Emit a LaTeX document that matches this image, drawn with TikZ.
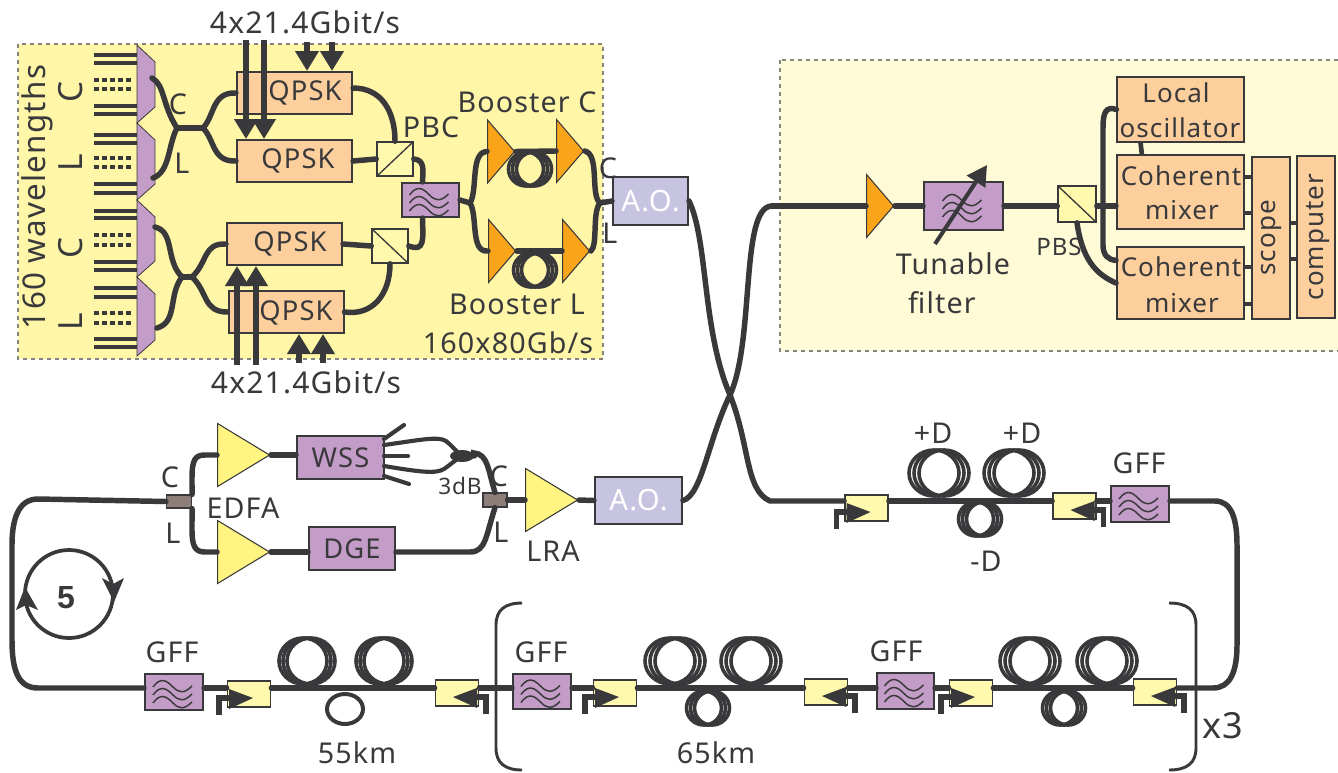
\documentclass[tikz,border=0pt]{standalone}
\usepackage{fontspec}
\setmainfont[LetterSpace=4]{Noto Sans}
\newfontfamily\markfont{Liberation Sans}
\usetikzlibrary{shapes.geometric,arrows.meta}
\newlength{\du}
\setlength{\du}{0.75pt}
\definecolor{inkcolor}{rgb}{0.225000, 0.225000, 0.235000}
\definecolor{panelAcolor}{rgb}{1.000000, 0.965000, 0.660000}
\definecolor{panelBcolor}{rgb}{1.000000, 0.985000, 0.840000}
\definecolor{dashcolor}{rgb}{0.520000, 0.520000, 0.500000}
\definecolor{purplecolor}{rgb}{0.765000, 0.610000, 0.780000}
\definecolor{peachcolor}{rgb}{0.990000, 0.810000, 0.610000}
\definecolor{orangecolor}{rgb}{0.975000, 0.645000, 0.100000}
\definecolor{lemoncolor}{rgb}{1.000000, 0.960000, 0.500000}
\definecolor{palecolor}{rgb}{1.000000, 0.975000, 0.680000}
\definecolor{lilaccolor}{rgb}{0.775000, 0.770000, 0.880000}
\definecolor{taupecolor}{rgb}{0.555000, 0.495000, 0.475000}
\tikzset{
  lbl/.style={inner sep=0pt,text=inkcolor,font=\fontsize{21.5}{26}\selectfont},
  lblbox/.style={lbl,font=\fontsize{19.5}{26}\selectfont},
  lblbig/.style={lbl,font=\fontsize{25}{26}\selectfont},
  panelbox/.style={draw=dashcolor,dashed,line width=1pt},
  fibre/.style={draw=inkcolor,line width=4.1pt,line cap=round},
  thinfibre/.style={draw=inkcolor,line width=3.1pt,line cap=round},
  stubline/.style={draw=inkcolor,line width=3.5pt},
  coilring/.style={draw=inkcolor,line width=2.7pt},
  bracket/.style={draw=inkcolor,line width=2.2pt},
  sigarrow/.style={draw=inkcolor,line width=3.8pt,-{Triangle[length=15pt,width=17pt]}},
  chbar/.style={draw=inkcolor,line width=3.6pt},
  chdots/.style={draw=inkcolor,line width=3.4pt,dash pattern=on 3.4pt off 2.6pt},
  plainbox/.style={rectangle,inner sep=0pt,draw=inkcolor,line width=1.5pt,text=inkcolor,font=\fontsize{20.5}{26}\selectfont},
  peachbox/.style={plainbox,fill=peachcolor},
  wssbox/.style={plainbox,fill=purplecolor},
  aobox/.style={plainbox,fill=lilaccolor,text=white,font=\fontsize{22}{26}\selectfont},
  couplerbox/.style={rectangle,inner sep=0pt,draw=inkcolor,line width=0.8pt,fill=taupecolor},
  isobox/.style={rectangle,inner sep=0pt,draw=inkcolor,line width=1.4pt,fill=palecolor,minimum width=43\du,minimum height=26\du},
  isostem/.style={draw=inkcolor,line width=4pt},
  filtbox/.style={plainbox,fill=purplecolor,path picture={
    \draw[wave,shift={(path picture bounding box.center)},scale=#1] (-21,-5) .. controls (-13,-16) and (-7,-11) .. (-1,-5) .. controls (5,1) and (10,2) .. (18,-6);
    \draw[wave,shift={(path picture bounding box.center)},scale=#1] (-21,3) .. controls (-13,-8) and (-7,-3) .. (-1,3) .. controls (5,9) and (10,10) .. (18,2);
    \draw[wave,shift={(path picture bounding box.center)},scale=#1] (-21,11) .. controls (-13,0) and (-7,5) .. (-1,11) .. controls (5,17) and (10,18) .. (18,10);
  }},
  wave/.style={draw=inkcolor,line width=1.1pt},
  splitup/.style={plainbox,line width=1.2pt,fill=palecolor,path picture={
    \draw[draw=inkcolor,line width=1pt] (path picture bounding box.south west) -- (path picture bounding box.north east);}},
  splitdown/.style={plainbox,line width=1.2pt,fill=palecolor,path picture={
    \draw[draw=inkcolor,line width=1pt] (path picture bounding box.north west) -- (path picture bounding box.south east);}},
  amp/.style={isosceles triangle,isosceles triangle stretches,shape border rotate=0,inner sep=0pt,anchor=lower side,draw=inkcolor,line width=0.8pt},
  ampbooster/.style={amp,fill=orangecolor,minimum height=27\du,minimum width=63\du},
  ampline/.style={amp,fill=lemoncolor,minimum height=52\du,minimum width=63\du},
}
\newcommand{\coilat}[5]{%
  \draw[coilring] (#1-#5,#2) ellipse ({#3} and {#4});
  \draw[coilring] (#1,#2) ellipse ({#3} and {#4});
  \draw[coilring] (#1+#5,#2) ellipse ({#3} and {#4});
}
\newcommand{\isoright}[3]{%
  \node[isobox] (#1) at (#2,#3) {};
  \fill[inkcolor,shift={(#2,#3)}] (-20,-5) -- (4,4) -- (-20,15) -- cycle;
  \draw[isostem,shift={(#2,#3)}] (-30,21) -- (-30,4) -- (-17,4);
}
\newcommand{\isoleft}[3]{%
  \node[isobox] (#1) at (#2,#3) {};
  \fill[inkcolor,shift={(#2,#3)}] (20,-5) -- (-4,4) -- (20,15) -- cycle;
  \draw[isostem,shift={(#2,#3)}] (29,21) -- (29,4) -- (16,4);
}
\newcommand{\demuxat}[2]{%
  \filldraw[fill=purplecolor,draw=inkcolor,line width=0.6pt] (137,#1) -- (155,#1+17) -- (155,#2-16) -- (137,#2) -- cycle;
}
\begin{document}
\begin{tikzpicture}[x=\du,y=-\du]
\useasboundingbox (0,0) rectangle (1338,772);
% panels
\filldraw[panelbox,fill=panelAcolor] (18,44) rectangle (603,359);
\filldraw[panelbox,fill=panelBcolor] (780,60) rectangle (1340,351);
% wavelength combs
\draw[chbar] (94,55) -- (137,55) (94,63) -- (137,63) (94,106) -- (137,106) (94,114) -- (137,114);
\draw[chbar] (94,135) -- (137,135) (94,143) -- (137,143) (94,184) -- (137,184) (94,193) -- (137,193);
\draw[chbar] (94,211) -- (137,211) (94,218) -- (137,218) (94,262) -- (137,262) (94,270) -- (137,270);
\draw[chbar] (94,288) -- (137,288) (94,297) -- (137,297) (94,339) -- (137,339) (94,347) -- (137,347);
\draw[chdots] (94,80) -- (132,80) (94,89) -- (132,89) (94,158) -- (132,158) (94,167) -- (132,167);
\draw[chdots] (94,235) -- (132,235) (94,245) -- (132,245) (94,313) -- (132,313) (94,323) -- (132,323);
\demuxat{45}{123}
\demuxat{123}{200}
\demuxat{200}{277}
\demuxat{277}{356}
\coordinate (demuxA) at (152,78);
\coordinate (demuxB) at (153,178);
\coordinate (demuxC) at (155,227);
\coordinate (demuxD) at (157,328);
\coordinate (mergeA) at (177,128);
\coordinate (splitA) at (203,128);
\coordinate (mergeB) at (182,277);
\coordinate (splitB) at (192,277);
% transmitter
\node[peachbox,minimum width=115\du,minimum height=42\du] (qpskA) at (294.5,93) {};
\node[peachbox,minimum width=115\du,minimum height=42\du] (qpskB) at (294.5,161) {};
\node[peachbox,minimum width=115\du,minimum height=42\du] (qpskC) at (284.5,244) {};
\node[peachbox,minimum width=115\du,minimum height=42\du] (qpskD) at (286,312) {};
\node[lblbox,font=\fontsize{20.5}{26}\selectfont] (qpskAtxt) at (305,93) {QPSK};
\node[lblbox,font=\fontsize{20.5}{26}\selectfont] (qpskBtxt) at (298,161) {QPSK};
\node[lblbox,font=\fontsize{20.5}{26}\selectfont] (qpskCtxt) at (290,244) {QPSK};
\node[lblbox,font=\fontsize{20.5}{26}\selectfont] (qpskDtxt) at (296,313) {QPSK};
\node[splitup,minimum width=36\du,minimum height=34\du] (pbcA) at (395,159) {};
\node[splitdown,minimum width=36\du,minimum height=34\du] (pbcB) at (390,246) {};
\node[filtbox=1,minimum width=57\du,minimum height=34\du] (filtA) at (430.5,200) {};
\node[ampbooster] (boostCa) at (487,151.5) {};
\node[ampbooster] (boostCb) at (556,151) {};
\node[ampbooster] (boostLa) at (488,251) {};
\node[ampbooster] (boostLb) at (562,251) {};
\coordinate (splitC) at (470,203);
\coordinate (mergeC) at (600,203);
\node[aobox,minimum width=75\du,minimum height=48\du] (aoUp) at (650.5,201) {A.O.};
\draw[fibre] (demuxA) .. controls (165,85) and (162,105) .. (mergeA);
\draw[fibre] (demuxB) .. controls (170,172) and (168,145) .. (mergeA);
\draw[fibre] (mergeA) -- (splitA);
\draw[fibre] (splitA) .. controls (215,115) and (212,92) .. (qpskA.west);
\draw[fibre] (splitA) .. controls (215,140) and (212,162) .. (qpskB.west);
\draw[fibre] (demuxC) .. controls (175,232) and (165,260) .. (mergeB);
\draw[fibre] (demuxD) .. controls (178,322) and (168,295) .. (mergeB);
\draw[fibre] (mergeB) -- (splitB);
\draw[fibre] (splitB) .. controls (208,262) and (203,243) .. (qpskC.west);
\draw[fibre] (splitB) .. controls (208,292) and (203,312) .. (qpskD.west);
\draw[fibre] ([yshift=3.75pt]qpskA.east) .. controls (382,88) and (395,112) .. (pbcA.north);
\draw[fibre] (qpskB.east) -- (pbcA.west);
\draw[fibre] (qpskC.east) -- (pbcB.west);
\draw[fibre] (qpskD.east) .. controls (372,316) and (390,295) .. (pbcB.south);
\draw[fibre] (pbcA.east) .. controls (425,160) and (423,170) .. ([xshift=-6pt]filtA.north);
\draw[fibre] (pbcB.east) .. controls (425,252) and (423,240) .. ([xshift=-6pt]filtA.south);
\draw[fibre] (filtA.east) -- (splitC);
\draw[fibre] (splitC) .. controls (478,190) and (470,152) .. (boostCa.lower side);
\draw[fibre] (splitC) .. controls (478,216) and (470,253) .. (boostLa.lower side);
\draw[fibre] (boostCa.apex) -- (boostCb.lower side);
\draw[fibre] (boostLa.apex) -- (boostLb.lower side);
\draw[fibre] (boostCb.apex) .. controls (600,155) and (590,195) .. (mergeC);
\draw[fibre] (boostLb.apex) .. controls (598,245) and (592,212) .. (mergeC);
\draw[fibre] (mergeC) -- (aoUp.west);
\coilat{530}{169}{17.5}{17}{4}
\coilat{535}{270}{17.5}{17}{4}
% signal inputs
\coordinate (inA) at (246,40);
\coordinate (inB) at (264,40);
\coordinate (inC) at (307,42);
\coordinate (inD) at (332,42);
\coordinate (inE) at (237,365);
\coordinate (inF) at (256,365);
\coordinate (inG) at (299,363);
\coordinate (inH) at (323,363);
\draw[sigarrow] (inA) -- (inA |- qpskB.north);
\draw[sigarrow] (inB) -- (inB |- qpskB.north);
\draw[sigarrow] (inC) -- (inC |- qpskA.north);
\draw[sigarrow] (inD) -- (inD |- qpskA.north);
\draw[sigarrow] (inE) -- (inE |- qpskC.south);
\draw[sigarrow] (inF) -- (inF |- qpskC.south);
\draw[sigarrow] (inG) -- (inG |- qpskD.south);
\draw[sigarrow] (inH) -- (inH |- qpskD.south);
\node[lbl,font=\fontsize{22.5}{26}\selectfont] (rateA) at (305,22) {4x21.4Gbit/s};
\node[lbl,font=\fontsize{22.5}{26}\selectfont] (rateB) at (306,382) {4x21.4Gbit/s};
\node[lbl,rotate=90,font=\fontsize{23.5}{26}\selectfont] (lblwave) at (37,197) {160 wavelengths};
\node[lblbig,rotate=90] (lblcA) at (71,92) {C};
\node[lblbig,rotate=90] (lbllA) at (71,163) {L};
\node[lblbig,rotate=90] (lblcB) at (71,248) {C};
\node[lblbig,rotate=90] (lbllB) at (71,322) {L};
\node[lbl] (lblcC) at (178,104) {C};
\node[lbl] (lbllC) at (182,163) {L};
\node[lbl] (lblpbc) at (431,127) {PBC};
\node[lbl] (lblboostC) at (527,102) {Booster C};
\node[lbl] (lblboostL) at (517,304) {Booster L};
\node[lbl] (lbltotal) at (508,343) {160x80Gb/s};
\node[lbl] (lblcD) at (608,168) {C};
\node[lbl] (lbllD) at (610,233) {L};
% receiver
\node[ampbooster] (ampR) at (866,206) {};
\node[filtbox=1.35,minimum width=79\du,minimum height=48\du] (filtR) at (963.5,206) {};
\node[splitdown,minimum width=38\du,minimum height=36\du] (pbs) at (1077,204) {};
\node[peachbox,line width=0.8pt,minimum width=127\du,minimum height=65\du] (losc) at (1180.5,109.5) {};
\node[peachbox,minimum width=127\du,minimum height=74\du] (mixA) at (1180.5,192) {};
\node[peachbox,minimum width=127\du,minimum height=72\du] (mixB) at (1180.5,283) {};
\node[peachbox,minimum width=38\du,minimum height=162\du] (scopebox) at (1271,238) {};
\node[peachbox,minimum width=38\du,minimum height=162\du] (compbox) at (1316,237) {};
\node[lblbox] (lblloA) at (1176,93) {Local};
\node[lblbox] (lblloB) at (1180,128) {oscillator};
\node[lblbox] (lblcohA) at (1181,176) {Coherent};
\node[lblbox] (lblmixA) at (1182,210) {mixer};
\node[lblbox] (lblcohB) at (1181,267) {Coherent};
\node[lblbox] (lblmixB) at (1182,303) {mixer};
\node[lblbox,rotate=90] (lblscope) at (1272,238) {scope};
\node[lblbox,rotate=90] (lblcomp) at (1318,237) {computer};
\node[lbl] (lbltunA) at (953,264) {Tunable};
\node[lbl] (lbltunB) at (942,303) {filter};
\node[lbl,font=\fontsize{18}{26}\selectfont] (lblpbs) at (1059,247) {PBS};
\draw[fibre] (772,206) -- (ampR.lower side);
\draw[fibre] (ampR.apex) -- (filtR.west);
\draw[fibre] (filtR.east) -- (pbs.west |- filtR.east);
\draw[fibre] (pbs.east |- filtR.east) -- (mixA.west |- filtR.east);
\draw[fibre] (pbs.south) .. controls (1082,258) and (1095,274) .. (mixB.west);
\draw[fibre] (losc.west) .. controls (1106,106) and (1103,112) .. (1103,128) -- (1103,245) .. controls (1103,255) and (1108,260) .. ([yshift=17pt]mixB.west);
\draw[stubline] ([xshift=-30pt]losc.south) -- ([xshift=-29pt]mixA.north);
\coordinate (mixAa) at (1244,177);
\coordinate (mixAb) at (1244,213);
\coordinate (mixBa) at (1244,267);
\coordinate (mixBb) at (1244,304);
\coordinate (scopeA) at (1290,223);
\coordinate (scopeB) at (1290,259);
\draw[stubline] (mixAa) -- (mixAa -| scopebox.west);
\draw[stubline] (mixAb) -- (mixAb -| scopebox.west);
\draw[stubline] (mixBa) -- (mixBa -| scopebox.west);
\draw[stubline] (mixBb) -- (mixBb -| scopebox.west);
\draw[stubline] (scopeA) -- (scopeA -| compbox.west);
\draw[stubline] (scopeB) -- (scopeB -| compbox.west);
\coordinate (tuneA) at (935,244);
\coordinate (tuneB) at (987,165);
\draw[draw=inkcolor,line width=3pt,-{Triangle[length=15pt,width=16pt]}] (tuneA) -- (tuneB);
% loop nodes
\node[ampline] (edfaA) at (217,455) {};
\node[ampline] (edfaB) at (217,552) {};
\node[ampline] (lra) at (525,500) {};
\node[wssbox,minimum width=87\du,minimum height=43\du] (wss) at (340.5,457.5) {WSS};
\node[wssbox,minimum width=86\du,minimum height=43\du] (dge) at (352,548.5) {DGE};
\node[couplerbox,minimum width=25\du,minimum height=13\du] (coupL) at (179,501.5) {};
\node[couplerbox,minimum width=24\du,minimum height=14\du] (coupR) at (495,500) {};
\node[aobox,minimum width=87\du,minimum height=47\du] (aoLow) at (638.5,500.5) {A.O.};
\node[ellipse,inner sep=0pt,fill=inkcolor,minimum width=24\du,minimum height=12\du] (coup3db) at (462,456) {};
\coordinate (stubA) at (404,425);
\coordinate (stubB) at (408,456);
\coordinate (stubC) at (409,484);
\draw[fibre] (coupL.north east) -- (192,478) .. controls (192,460) and (195,455) .. (205,455) -- (edfaA.lower side);
\draw[fibre] (coupL.south east) -- (192,530) .. controls (192,546) and (195,552) .. (205,552) -- (edfaB.lower side);
\draw[fibre] (edfaA.apex) -- (edfaA.apex -| wss.west);
\draw[fibre] (edfaB.apex) -- (edfaB.apex -| dge.west);
\draw[fibre] (coupR.north) .. controls (488,470) and (488,454) .. (474,453) -- (coup3db.east);
\draw[fibre] (coupR.south) .. controls (486,535) and (486,552) .. (470,552) -- (edfaB.apex -| dge.east);
\draw[fibre] (coupR.east) -- (lra.lower side);
\draw[fibre] (lra.apex) -- (aoLow.west);
\draw[thinfibre] (384,439) -- (stubA);
\draw[thinfibre] (384,456) -- (stubB);
\draw[thinfibre] (384,476) -- (stubC);
\draw[thinfibre] (384,445) .. controls (420,440) and (438,436) .. (446,441) .. controls (451,445) and (455,450) .. (coup3db.center);
\draw[thinfibre] (384,466) .. controls (420,472) and (436,474) .. (444,469) .. controls (450,465) and (455,460) .. (coup3db.center);
\node[lbl] (lblcE) at (170,477) {C};
\node[lbl] (lbllE) at (173,533) {L};
\node[lbl] (lblcF) at (499,476) {C};
\node[lbl] (lbllF) at (501,532) {L};
\node[lbl,font=\fontsize{17}{18}\selectfont] (lbl3db) at (460,486) {3dB};
\node[lbl] (lbledfa) at (243,508) {EDFA};
\node[lbl] (lbllra) at (553,551) {LRA};
% crossing
\coordinate (crossing) at (730,395);
\coordinate (rowTop) at (0,501);
\coordinate (rowLow) at (0,688);
% span nodes
\node[filtbox=1,minimum width=58\du,minimum height=36\du] (gffTop) at (1140,504) {};
\isoright{isoG}{866.5}{508}
\isoleft{isoH}{1074.5}{506}
\node[filtbox=1,minimum width=58\du,minimum height=36\du] (gffA) at (174,692) {};
\node[filtbox=1,minimum width=58\du,minimum height=35\du] (gffB) at (542,691.5) {};
\node[filtbox=1,minimum width=57\du,minimum height=36\du] (gffC) at (905.5,691) {};
\isoright{isoA}{249}{694}
\isoleft{isoB}{457}{693}
\isoright{isoC}{615}{693}
\isoleft{isoD}{826}{692}
\isoright{isoE}{971}{693}
\isoleft{isoF}{1155}{692}
\draw[fibre] (aoUp.east) .. controls (708,240) and (702,330) .. (crossing) .. controls (750,445) and (745,490) .. (770,501) -- (isoG.west |- rowTop);
\draw[fibre] (aoLow.east) .. controls (702,495) and (708,440) .. (crossing) .. controls (755,340) and (740,206) .. (772,206);
\draw[fibre] (isoG.east |- rowTop) -- (isoH.west |- rowTop);
\draw[fibre] (isoH.east |- rowTop) -- (gffTop.west |- rowTop);
\draw[fibre] (isoF.east |- rowLow) -- (1213,688) .. controls (1230,688) and (1237,672) .. (1237,645) -- (1237,545) .. controls (1237,520) and (1232,501) .. (1215,501) -- (gffTop.east |- rowTop);
\draw[fibre] (gffA.west |- rowLow) -- (38,688) .. controls (18,688) and (12,670) .. (12,640) -- (12,545) .. controls (12,520) and (18,499) .. (38,499) -- (coupL.west);
\draw[fibre] (gffA.east |- rowLow) -- (isoA.west |- rowLow);
\draw[fibre] (isoA.east |- rowLow) -- (isoB.west |- rowLow);
\draw[fibre] (isoB.east |- rowLow) -- (gffB.west |- rowLow);
\draw[fibre] (gffB.east |- rowLow) -- (isoC.west |- rowLow);
\draw[fibre] (isoC.east |- rowLow) -- (isoD.west |- rowLow);
\draw[fibre] (isoD.east |- rowLow) -- (gffC.west |- rowLow);
\draw[fibre] (gffC.east |- rowLow) -- (isoE.west |- rowLow);
\draw[fibre] (isoE.east |- rowLow) -- (isoF.west |- rowLow);
% fibre coils
\coilat{939}{473}{25}{23}{5}
\coilat{1014}{473}{25}{23}{5}
\coilat{980}{519}{17.5}{17}{4}
\coilat{307}{661}{24}{23}{4}
\coilat{384}{661}{24}{23}{4}
\draw[coilring,line width=3pt] (345,709) ellipse (18 and 15);
\coilat{675}{661}{25}{23}{5}
\coilat{751}{661}{25}{23}{5}
\coilat{708}{708}{17.5}{17}{4}
\coilat{1030}{661}{25}{23}{5}
\coilat{1107}{661}{25}{23}{5}
\coilat{1064}{708}{17.5}{17}{4}
% repeat brackets
\draw[bracket] (522,603) .. controls (505,603) and (496,610) .. (496,625) -- (496,748) .. controls (496,763) and (505,770) .. (522,770);
\draw[bracket] (1169,603) .. controls (1187,603) and (1196,610) .. (1196,625) -- (1196,748) .. controls (1196,763) and (1187,770) .. (1169,770);
% recirculation mark
\node[circle,inner sep=0pt,draw=inkcolor,line width=2.8pt,minimum size=88\du] (loopmark) at (69,594) {};
\fill[inkcolor] (102,578) -- (113,584) -- (124,578) -- (114,602) -- cycle;
\fill[inkcolor] (16,610) -- (26,605) -- (38,610) -- (25,587) -- cycle;
\node[lbl,font=\markfont\fontsize{24}{26}\selectfont\bfseries] (loopcount) at (66,598) {5};
\node[lbl] (lblgffA) at (172,652) {GFF};
\node[lbl] (lblgffB) at (541,652) {GFF};
\node[lbl] (lblgffC) at (896,651) {GFF};
\node[lbl] (lblgffTop) at (1139,463) {GFF};
\node[lbl] (lblspanA) at (357,753) {55km};
\node[lbl] (lblspanB) at (716,753) {65km};
\node[lbl] (lblposA) at (933,433) {+D};
\node[lbl] (lblposB) at (1022,433) {+D};
\node[lbl] (lblneg) at (986,561) {-D};
\node[lbl,font=\fontsize{27}{26}\selectfont] (lblrepeat) at (1223,726) {x3};
\end{tikzpicture}
\end{document}
